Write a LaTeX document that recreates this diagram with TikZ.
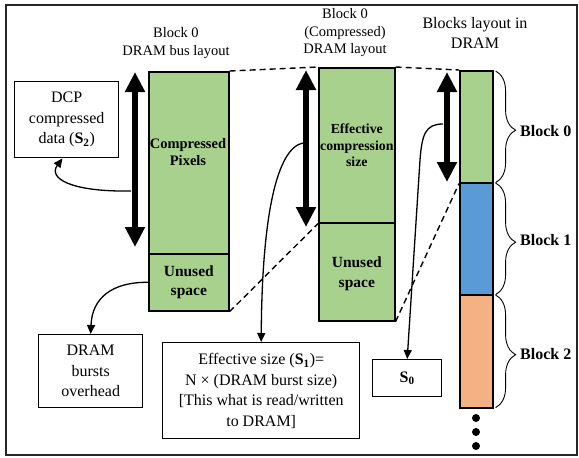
\documentclass[tikz,border=0pt]{standalone}
\usepackage{fontspec}
\setmainfont{Liberation Serif}
\usetikzlibrary{arrows.meta,decorations.pathreplacing,calc}

\definecolor{pixgreen}{HTML}{A9D18E}
\definecolor{blkblue}{HTML}{5B9BD5}
\definecolor{blkorange}{HTML}{F4B183}

\newcommand{\subS}[1]{\textbf{S}\textsubscript{\textbf{#1}}}

\tikzset{
  frame/.style={draw=black!85, line width=1.4pt},
  heading/.style={align=center, font=\fontsize{14.5}{17.5}\selectfont},
  bigheading/.style={align=center, font=\fontsize{16}{19.5}\selectfont},
  memrect/.style={draw=black, line width=1.6pt, anchor=north west, inner sep=0pt},
  greenrect/.style={memrect, fill=pixgreen},
  inlabel/.style={align=center, font=\bfseries\fontsize{14.5}{17}\selectfont, inner sep=0pt},
  unusedlabel/.style={align=center, font=\bfseries\fontsize{15.5}{19.5}\selectfont, inner sep=0pt},
  infobox/.style={draw=black, line width=1.4pt, align=center,
    font=\fontsize{16}{20.5}\selectfont, anchor=north west, inner sep=0pt},
  sizearrow/.style={line width=5.5pt,
    {Triangle[width=19pt,length=20pt]}-{Triangle[width=19pt,length=20pt]}},
  pointer/.style={line width=1.3pt, -{Triangle[width=8pt,length=9pt]}},
  guide/.style={line width=1.4pt, dash pattern=on 6pt off 4pt},
  blockbrace/.style={line width=0.9pt, decorate,
    decoration={brace, amplitude=20pt, aspect=0.53}},
  blocklabel/.style={anchor=west, font=\bfseries\fontsize{16}{19}\selectfont, inner sep=0pt},
  dot/.style={fill=black, circle, inner sep=0pt, minimum size=8pt}
}

\begin{document}
\begin{tikzpicture}[x=1pt, y=-1pt]
\useasboundingbox (0,0) rectangle (579,458);
\draw[frame] (6,5) rectangle (577,455);

% headings
\node[heading] (h1) at (176,43) {Block 0\\DRAM bus layout};
\node[heading] (h2) at (345,33) {Block 0\\(Compressed)\\DRAM layout};
\node[bigheading] (h3) at (475,33) {Blocks layout in\\DRAM};

% block 0 on the DRAM bus
\node[greenrect, minimum width=80pt, minimum height=182pt] (cp) at (148,71) {};
\node[greenrect, minimum width=80pt, minimum height=57pt] (un1) at (148,253) {};
\node[inlabel] (cpt) at (188,152) {Compressed\\Pixels};
\node[unusedlabel] (un1t) at (un1) {Unused\\space};

% block 0 compressed in DRAM
\node[greenrect, minimum width=76pt, minimum height=155pt] (eff) at (318,67) {};
\node[greenrect, minimum width=76pt, minimum height=98pt] (un2) at (318,222) {};
\node[inlabel, font=\bfseries\fontsize{13.8}{16.5}\selectfont] (efft) at (eff) {Effective\\compression\\size};
\node[unusedlabel] (un2t) at ($(un2)+(0,2)$) {Unused\\space};

% blocks stacked in DRAM
\node[memrect, fill=pixgreen, minimum width=33pt, minimum height=112pt] (b0) at (459,70) {};
\node[memrect, fill=blkblue, minimum width=33pt, minimum height=112pt] (b1) at (459,182) {};
\node[memrect, fill=blkorange, minimum width=33pt, minimum height=113pt] (b2) at (459,294) {};
\node[dot] (d1) at (476,418) {};
\node[dot] (d2) at (476,432) {};
\node[dot] (d3) at (476,446) {};

% braces with block names
\draw[blockbrace] ($(b0.north east)+(2,1)$) -- ($(b0.south east)+(2,-1)$);
\draw[blockbrace] ($(b1.north east)+(2,1)$) -- ($(b1.south east)+(2,-1)$);
\draw[blockbrace] ($(b2.north east)+(2,1)$) -- ($(b2.south east)+(2,-1)$);
\node[blocklabel] (l0) at (520,131) {Block 0};
\node[blocklabel] (l1) at (520,240) {Block 1};
\node[blocklabel] (l2) at (520,354) {Block 2};

% dashed guides between layouts
\draw[guide] (cp.north east) -- (eff.north west);
\draw[guide] (eff.north east) -- (b0.north west);
\draw[guide] (un1.south east) -- (eff.south west);
\draw[guide] (un2.south east) -- (b0.south west);

% size arrows
\coordinate (a1t) at (135,72);
\coordinate (a1b) at (135,247);
\coordinate (a2t) at (306,70);
\coordinate (a2b) at (306,227);
\coordinate (a3t) at (447,72);
\coordinate (a3b) at (447,182);
\draw[sizearrow] (a1t) -- (a1b);
\draw[sizearrow] (a2t) -- (a2b);
\draw[sizearrow] (a3t) -- (a3b);

% description boxes
\node[infobox, minimum width=104pt, minimum height=76pt] (dcp) at (14,81)
  {DCP\\compressed\\data (\subS{2})};
\node[infobox, minimum width=104pt, minimum height=73pt] (bursts) at (38,334)
  {DRAM\\bursts\\overhead};
\node[infobox, minimum width=197pt, minimum height=96pt] (effbox) at (162,342)
  {Effective size (\subS{1})=\\N × (DRAM burst size)\\{[This what is read/written}\\to DRAM]};
\node[infobox, minimum width=69pt, minimum height=37pt] (s0) at (372,359)
  {\subS{0}};

% pointers to the descriptions
\coordinate (p1) at (131,191);
\coordinate (p3) at (303,143);
\coordinate (p4) at (443,124);
\draw[pointer] (p1) .. controls (70,192) and (48,178) .. ($(dcp.south west)!0.46!(dcp.south east)$);
\draw[pointer] (un1.west) .. controls (112,282) and (92,298) .. (bursts.north);
\draw[pointer] (p3) .. controls (277,148) and (262,215) .. (effbox.north);
\draw[pointer] (p4) .. controls (425,124) and (422,135) .. (420,160) -- (s0.north);
\end{tikzpicture}
\end{document}
